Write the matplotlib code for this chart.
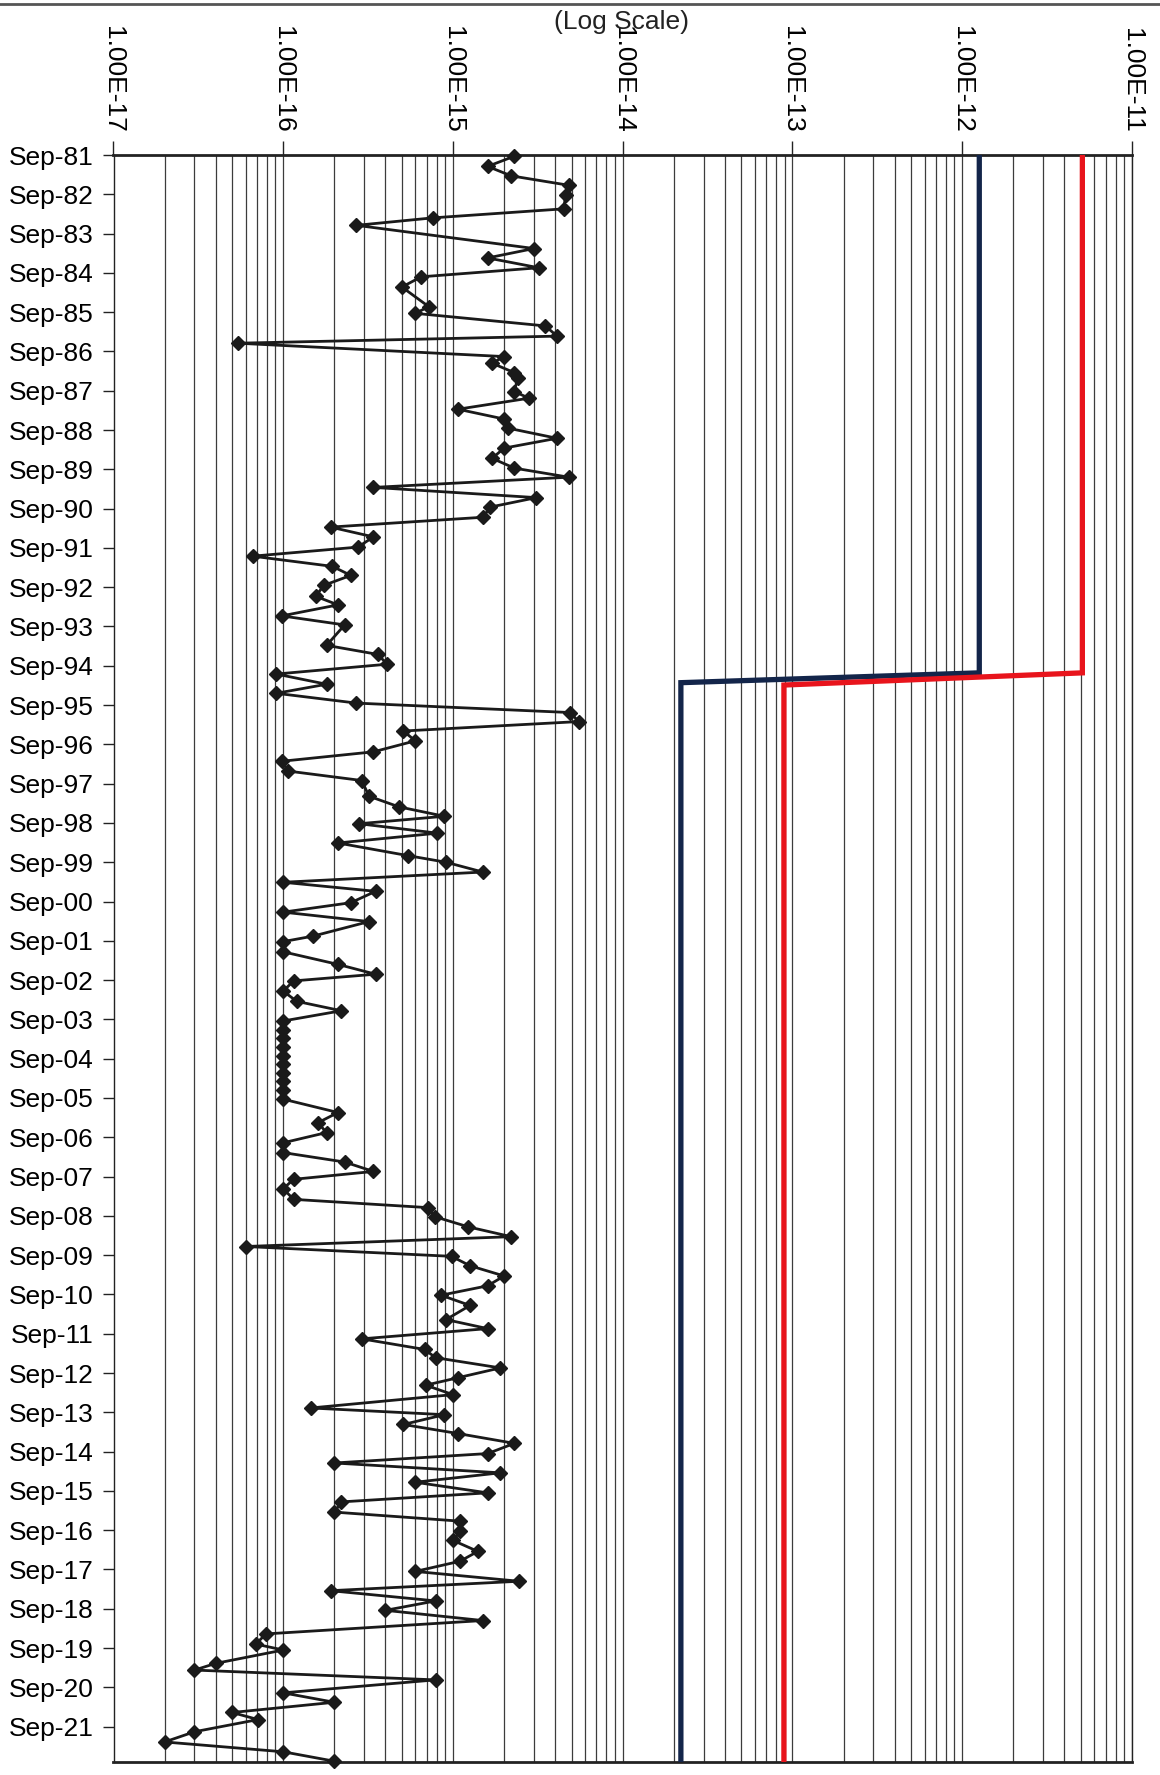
import matplotlib
matplotlib.use("Agg")
import matplotlib.pyplot as plt
from matplotlib.ticker import FixedLocator, LogLocator, NullFormatter
from matplotlib.lines import Line2D

plt.rcParams['font.family'] = ['Liberation Sans', 'DejaVu Sans']

# ---- data ----
# sample time in years after Sep-81
sample_years = [
    0.03, 0.29, 0.53, 0.77, 1.02, 1.37, 1.60, 1.79, 2.38, 2.62,
    2.87, 3.10, 3.36, 3.86, 4.03, 4.35, 4.61, 4.79, 5.13, 5.30,
    5.54, 5.68, 6.02, 6.19, 6.47, 6.72, 6.95, 7.21, 7.46, 7.72,
    7.97, 8.20, 8.46, 8.72, 8.96, 9.22, 9.47, 9.72, 9.98, 10.21,
    10.47, 10.70, 10.95, 11.23, 11.45, 11.73, 11.96, 12.48, 12.71, 12.96,
    13.21, 13.47, 13.70, 13.95, 14.19, 14.42, 14.66, 14.91, 15.19, 15.43,
    15.68, 15.92, 16.32, 16.59, 16.83, 17.02, 17.26, 17.51, 17.83, 18.00,
    18.25, 18.51, 18.74, 19.03, 19.27, 19.51, 19.88, 20.02, 20.28, 20.60,
    20.85, 21.02, 21.28, 21.54, 21.78, 22.04, 22.26, 22.48, 22.70, 22.92,
    23.14, 23.36, 23.58, 23.80, 24.03, 24.37, 24.63, 24.88, 25.14, 25.39,
    25.63, 25.87, 26.07, 26.31, 26.58, 26.79, 27.02, 27.28, 27.53, 27.78,
    28.03, 28.27, 28.53, 28.78, 29.02, 29.28, 29.64, 29.87, 30.13, 30.40,
    30.61, 30.87, 31.12, 31.31, 31.55, 31.89, 32.06, 32.31, 32.54, 32.79,
    33.05, 33.29, 33.54, 33.78, 34.05, 34.28, 34.54, 34.77, 35.03, 35.26,
    35.54, 35.79, 36.05, 36.30, 36.54, 36.80, 37.04, 37.30, 37.64, 37.90,
    38.05, 38.39, 38.56, 38.81, 39.14, 39.38, 39.64, 39.82, 40.13, 40.39,
    40.64, 40.88,
]
sample_values = [
    2.3e-15, 1.6e-15, 2.2e-15, 4.8e-15, 4.6e-15, 4.5e-15, 7.6e-16, 2.7e-16, 3.0e-15, 1.6e-15,
    3.2e-15, 6.5e-16, 5.0e-16, 7.2e-16, 6.0e-16, 3.5e-15, 4.1e-15, 5.4e-17, 2.0e-15, 1.7e-15,
    2.3e-15, 2.4e-15, 2.3e-15, 2.8e-15, 1.07e-15, 2.0e-15, 2.1e-15, 4.1e-15, 2.0e-15, 1.7e-15,
    2.3e-15, 4.8e-15, 3.4e-16, 3.1e-15, 1.66e-15, 1.5e-15, 1.9e-16, 3.4e-16, 2.75e-16, 6.6e-17,
    1.95e-16, 2.5e-16, 1.74e-16, 1.55e-16, 2.1e-16, 9.8e-17, 2.3e-16, 1.8e-16, 3.6e-16, 4.1e-16,
    9.1e-17, 1.8e-16, 9.1e-17, 2.7e-16, 4.9e-15, 5.5e-15, 5.1e-16, 6.0e-16, 3.4e-16, 9.8e-17,
    1.07e-16, 2.9e-16, 3.2e-16, 4.8e-16, 8.9e-16, 2.8e-16, 8.1e-16, 2.1e-16, 5.4e-16, 9.1e-16,
    1.5e-15, 1.0e-16, 3.5e-16, 2.5e-16, 1.0e-16, 3.2e-16, 1.5e-16, 1.0e-16, 1.0e-16, 2.1e-16,
    3.5e-16, 1.15e-16, 1.0e-16, 1.2e-16, 2.2e-16, 1.0e-16, 1.0e-16, 1.0e-16, 1.0e-16, 1.0e-16,
    1.0e-16, 1.0e-16, 1.0e-16, 1.0e-16, 1.0e-16, 2.1e-16, 1.6e-16, 1.8e-16, 1.0e-16, 1.0e-16,
    2.3e-16, 3.4e-16, 1.15e-16, 1.0e-16, 1.15e-16, 7.1e-16, 7.8e-16, 1.23e-15, 2.2e-15, 6.0e-17,
    9.8e-16, 1.26e-15, 2.0e-15, 1.6e-15, 8.5e-16, 1.26e-15, 9.1e-16, 1.6e-15, 2.9e-16, 6.8e-16,
    7.9e-16, 1.9e-15, 1.07e-15, 6.9e-16, 1.0e-15, 1.45e-16, 8.9e-16, 5.1e-16, 1.07e-15, 2.3e-15,
    1.6e-15, 2.0e-16, 1.9e-15, 6.0e-16, 1.6e-15, 2.2e-16, 2.0e-16, 1.1e-15, 1.1e-15, 1.0e-15,
    1.4e-15, 1.1e-15, 6.0e-16, 2.45e-15, 1.9e-16, 7.9e-16, 4.0e-16, 1.5e-15, 7.9e-17, 6.9e-17,
    1.0e-16, 4.0e-17, 3.0e-17, 7.9e-16, 1.0e-16, 2.0e-16, 5.0e-17, 7.1e-17, 3.0e-17, 2.0e-17,
    1.0e-16, 2.0e-16,
]

# limit lines (step down in 1994)
navy_years = [0.0, 13.18, 13.43, 40.9]
navy_values = [1.26e-12, 1.26e-12, 2.2e-14, 2.2e-14]
red_years = [0.0, 13.18, 13.49, 40.9]
red_values = [5.1e-12, 5.1e-12, 8.9e-14, 8.9e-14]

y_tick_years = list(range(0, 41))
y_tick_labels = ["Sep-%02d" % ((81 + i) % 100) for i in range(41)]
x_tick_values = [1e-17, 1e-16, 1e-15, 1e-14, 1e-13, 1e-12, 1e-11]
x_tick_labels = ["1.00E-17", "1.00E-16", "1.00E-15", "1.00E-14",
                 "1.00E-13", "1.00E-12", "1.00E-11"]

# ---- figure ----
W, H = 1160, 1775
fig = plt.figure(figsize=(W / 100, H / 100), dpi=100)
ax = fig.add_axes([113.5 / W, 1 - 1762 / H, (1132 - 113.5) / W, (1762 - 155) / H])

ax.set_xscale('log')
ax.set_xlim(1e-17, 1e-11)
ax.set_ylim(40.9, 0)

ax.xaxis.set_major_locator(FixedLocator(x_tick_values))
ax.set_xticklabels(x_tick_labels)
ax.xaxis.set_minor_locator(LogLocator(base=10, subs=range(2, 10), numticks=100))
ax.xaxis.set_minor_formatter(NullFormatter())
ax.xaxis.tick_top()
ax.tick_params(axis='x', which='major', length=10, width=1.0, pad=6,
               labelsize=19, labelrotation=-90, color='#222222')
ax.tick_params(axis='x', which='minor', length=0)
for lbl in ax.get_xticklabels():
    lbl.set_verticalalignment('bottom')
    lbl.set_horizontalalignment('center')

ax.set_yticks(y_tick_years)
ax.set_yticklabels(y_tick_labels)
ax.tick_params(axis='y', which='major', length=8, width=1.0, pad=6,
               labelsize=19, color='#222222')
ax.tick_params(axis='y', which='minor', left=False)

ax.grid(which='both', axis='x', color='#3c3c3c', linewidth=0.9)
ax.grid(which='both', axis='y', visible=False)
ax.set_axisbelow(True)

for side in ['left', 'right']:
    ax.spines[side].set_linewidth(1.0)
    ax.spines[side].set_color('#222222')
for side in ['top', 'bottom']:
    ax.spines[side].set_linewidth(2.0)
    ax.spines[side].set_color('#222222')

ax.plot(navy_values, navy_years, color='#13254a', linewidth=3.8,
        solid_joinstyle='miter', zorder=3)
ax.plot(red_values, red_years, color='#e8141c', linewidth=3.8,
        solid_joinstyle='miter', zorder=3)
ax.plot(sample_values, sample_years, color='#1a1a1a', linewidth=2.0,
        marker='D', markersize=7.5, markerfacecolor='#1a1a1a',
        markeredgecolor='#1a1a1a', zorder=4, clip_on=False)

fig.text(621 / W, 1 - 22 / H, "(Log Scale)", ha='center', va='center',
         fontsize=19, color='#222222')

# scanned-page border line at the very top
fig.add_artist(Line2D([0, 1], [1 - 3.5 / H, 1 - 3.5 / H], transform=fig.transFigure,
                      color='#555555', linewidth=2.0))

fig.savefig("out.png", dpi=100)
